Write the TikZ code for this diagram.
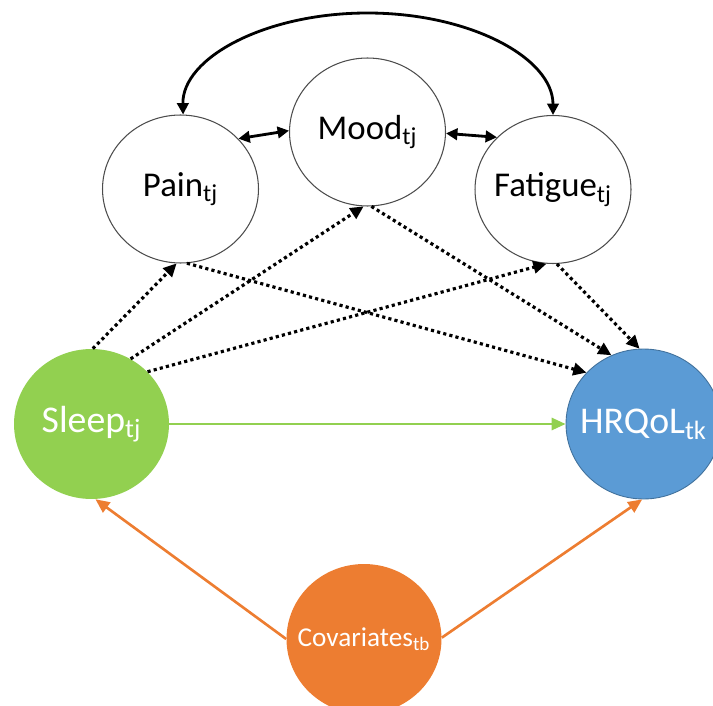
\documentclass[tikz,border=0pt]{standalone}
\usepackage{fontspec}
\setmainfont{Carlito}
\usetikzlibrary{shapes.geometric,arrows.meta}
\definecolor{sleepgreen}{HTML}{92D050}
\definecolor{qolblue}{HTML}{5B9BD5}
\definecolor{qoledge}{HTML}{41719C}
\definecolor{covorange}{HTML}{ED7D31}
\newcommand{\vlab}[2]{\makebox[0pt]{#1\textsubscript{#2}}}

\begin{document}
\begin{tikzpicture}[x=0.02cm,y=-0.02cm,
    var/.style={ellipse,draw=black!70,line width=.6pt,inner sep=0pt,
      minimum width=3.12cm,minimum height=2.96cm,font=\fontsize{19.8}{22}\selectfont},
    big/.style={ellipse,inner sep=0pt,minimum width=3.1cm,minimum height=3cm,
      text=white,font=\fontsize{21.5}{24}\selectfont},
    dots/.style={line width=1.8pt,dash pattern=on 1.8pt off 1.8pt,
      -{Triangle[length=7.5pt,width=7pt]}},
    link/.style={line width=1.6pt,{Triangle[length=6.5pt,width=6.5pt]}-{Triangle[length=6.5pt,width=6.5pt]}}]
  \useasboundingbox (0,0) rectangle (713,706); \clip (0,0) rectangle (713,706);
  \node[var] (pain) at (180.5,189) {\vlab{Pain}{tj}};
  \node[var] (mood) at (367.5,132) {\vlab{Mood}{tj}};
  \node[var] (fatigue) at (553,189.5) {\vlab{Fatigue}{tj}};
  \node[big,fill=sleepgreen] (sleep) at (91.5,424) {\vlab{Sleep}{tj}};
  \node[big,fill=qolblue,draw=qoledge,line width=.5pt] (hrqol) at (643.5,424) {\vlab{HRQoL}{tk}};
  \node[big,fill=covorange,font=\fontsize{15.5}{18}\selectfont] (cov) at (364,639) {\vlab{Covariates}{tb}};
  % correlations among the symptoms
  \draw[link] (pain.41) -- (mood.179); \draw[link] (mood.-1) -- (fatigue.137);
  \coordinate (arctop) at (367.5,13);
  \draw[link] (pain.88) .. controls (182,58) and (265,13) .. (arctop)
    .. controls (470,13) and (553,58) .. (fatigue.90);
  % mediators
  \draw[dots] (sleep.89) -- (pain.-93); \draw[dots] (sleep.59) -- (mood.-93);
  \draw[dots] (sleep.43) -- (fatigue.-95);
  \draw[dots] (pain.-85) -- (hrqol.138); \draw[dots] (mood.-87) -- (hrqol.115);
  \draw[dots] (fatigue.-87) -- (hrqol.93);
  \draw[sleepgreen,line width=1.3pt,-{Triangle[length=8pt,width=7pt]}] (sleep) -- (hrqol);
  \draw[covorange,line width=1.5pt,-{Triangle[length=8pt,width=7pt]}] (cov.180) -- (sleep.-87);
  \draw[covorange,line width=1.5pt,-{Triangle[length=8pt,width=7pt]}] (cov.1) -- (hrqol.-91);
\end{tikzpicture}
\end{document}
